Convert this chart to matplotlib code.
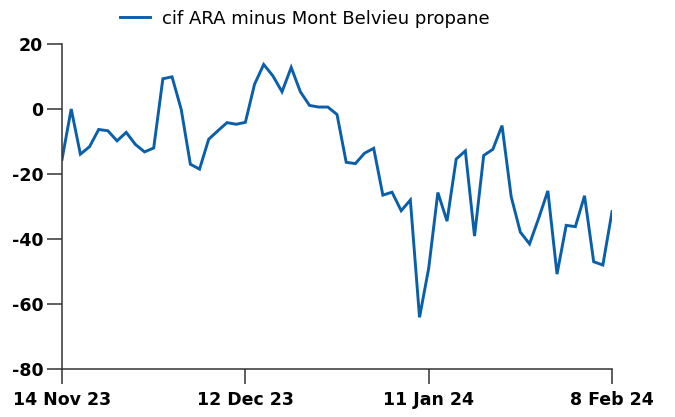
"""cif ARA minus Mont Belvieu propane spread, Nov 23 - Feb 24."""
import matplotlib
matplotlib.use("Agg")
import matplotlib.pyplot as plt
import pandas as pd

plt.rcParams["axes.unicode_minus"] = False

BLUE = "#0a5fab"
INK = "#333333"

SERIES_LABEL = "cif ARA minus Mont Belvieu propane"
START, END = "2023-11-14", "2024-02-08"
HOLIDAYS = ["2023-12-25", "2024-01-01"]

spread = [
    -15.5, 0.0, -13.9, -11.6, -6.3, -6.7, -9.8, -7.2, -10.9, -13.2,
    -12.0, 9.3, 9.9, -0.1, -17.0, -18.5, -9.3, -6.7, -4.2, -4.7,
    -4.1, 7.6, 13.7, 10.2, 5.3, 12.8, 5.3, 1.1, 0.6, 0.6,
    -1.7, -16.4, -16.8, -13.6, -12.1, -26.5, -25.6, -31.3, -28.0, -64.1,
    -49.0, -25.7, -34.5, -15.4, -12.9, -39.1, -14.3, -12.4, -5.1, -27.0,
    -37.9, -41.5, -33.6, -25.2, -50.8, -35.8, -36.2, -26.7, -47.0, -48.0,
    -31.6,
]
tick_idx = [0, 20, 40, 60]
y_ticks = [20, 0, -20, -40, -60, -80]

dates = pd.bdate_range(START, END)
dates = dates[~dates.isin(pd.to_datetime(HOLIDAYS))]
x = list(range(len(dates)))

fig = plt.figure(figsize=(6.75, 4.17), dpi=100)
ax = fig.add_axes([0.0919, 0.1151, 0.8148, 0.7794])

ax.plot(x, spread, color=BLUE, lw=2.1, solid_joinstyle="miter",
        label=SERIES_LABEL)

ax.set_xlim(0, len(x) - 1)
ax.set_ylim(-80, 20)
ax.set_yticks(y_ticks)
ax.set_xticks(tick_idx)
ax.set_xticklabels([f"{dates[i].day} {dates[i]:%b %y}" for i in tick_idx])

for side in ("top", "right"):
    ax.spines[side].set_visible(False)
for side in ("left", "bottom"):
    ax.spines[side].set_color(INK)
    ax.spines[side].set_linewidth(1.1)

ax.tick_params(axis="both", direction="out", length=10.5, width=1.1,
               color=INK, labelsize=12.5, labelcolor="black")
ax.tick_params(axis="y", pad=3)
ax.tick_params(axis="x", pad=5)
for lab in ax.get_xticklabels() + ax.get_yticklabels():
    lab.set_fontweight("bold")

fig.legend(loc="center left", bbox_to_anchor=(0.178, 0.955), frameon=False,
           fontsize=13, handlelength=1.65, handletextpad=0.65,
           borderpad=0, borderaxespad=0)

fig.savefig("out.png", dpi=100, facecolor="white")
